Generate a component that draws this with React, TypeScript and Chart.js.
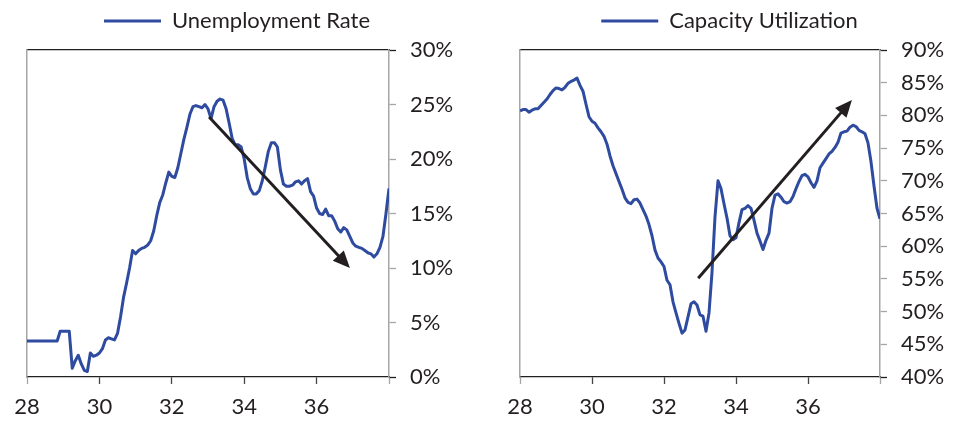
import React, { useEffect, useRef } from "react";
import { Chart, registerables } from "chart.js";

Chart.register(...registerables);

// ---------------- data ----------------
const FIRST_YEAR = 28; // monthly observations starting Jan 1928
const X_MIN = 28;
const X_MAX = 38;
const xTickValues = [28, 30, 32, 34, 36, 38];
const xTickLabels = ["28", "30", "32", "34", "36", ""];

const unemploymentRate = [
  3.3, 3.3, 3.3, 3.3, 3.3, 3.3, 3.3, 3.3, 3.3, 3.3, 3.3, 4.2,
  4.2, 4.2, 4.2, 0.8, 1.5, 2.0, 1.2, 0.6, 0.5, 2.2, 1.9, 2.0,
  2.2, 2.6, 3.4, 3.6, 3.5, 3.4, 4.0, 5.5, 7.3, 8.6, 10.0, 11.6,
  11.3, 11.6, 11.8, 11.9, 12.1, 12.5, 13.4, 14.8, 16.0, 16.7, 17.8, 18.8,
  18.4, 18.3, 19.2, 20.5, 21.8, 22.9, 24.1, 24.8, 24.9, 24.8, 24.7, 25.0,
  24.6, 23.7, 24.8, 25.3, 25.5, 25.4, 24.6, 23.3, 21.9, 21.3, 21.3, 21.1,
  20.0, 18.3, 17.3, 16.8, 16.8, 17.1, 18.0, 19.3, 20.7, 21.5, 21.5, 21.1,
  19.0, 17.7, 17.5, 17.5, 17.6, 17.9, 18.0, 17.7, 18.0, 18.2, 17.0, 16.6,
  15.5, 15.0, 14.9, 15.4, 14.8, 14.8, 14.3, 13.6, 13.3, 13.7, 13.5, 12.9,
  12.3, 12.0, 11.9, 11.8, 11.6, 11.4, 11.3, 11.0, 11.3, 11.9, 12.9, 15.0,
  17.3,
];

const capacityUtilization = [
  80.7, 80.9, 80.9, 80.5, 80.8, 81.0, 81.0, 81.5, 82.0, 82.5, 83.2, 83.8,
  84.2, 84.1, 83.9, 84.3, 84.9, 85.2, 85.4, 85.7, 84.6, 83.7, 81.7, 79.8,
  79.1, 78.8, 78.1, 77.5, 76.8, 75.6, 73.8, 72.3, 71.1, 69.9, 68.7, 67.4,
  66.7, 66.5, 67.1, 67.2, 66.6, 65.6, 64.6, 63.3, 61.6, 59.4, 58.2, 57.6,
  56.9, 54.8, 54.1, 51.5, 49.8, 48.2, 46.7, 47.2, 49.2, 51.2, 51.5, 51.0,
  49.5, 49.3, 47.0, 49.8, 56.0, 64.5, 70.0, 68.8, 66.5, 64.3, 61.6, 61.0,
  61.3, 63.6, 65.6, 65.8, 66.2, 65.8, 64.0, 62.0, 60.8, 59.5, 60.9, 62.0,
  65.8, 67.8, 68.0, 67.5, 66.8, 66.6, 66.8, 67.6, 68.8, 69.9, 70.8, 71.0,
  70.6, 69.7, 69.0, 70.0, 72.0, 72.7, 73.4, 74.1, 74.5, 75.1, 75.9, 77.3,
  77.5, 77.6, 78.2, 78.5, 78.3, 77.7, 77.5, 77.2, 75.8, 72.9, 69.2, 65.8,
  64.2,
];

// trend arrows: [year, value]
const unemploymentArrowFrom = [33.03, 23.85];
const unemploymentArrowTo = [36.92, 10.0];
const capacityArrowFrom = [32.95, 55.1];
const capacityArrowTo = [37.22, 82.35];

// ---------------- style ----------------
const DARK = "#231f20";
const GRAY = "#a6a6a6";
const BLUE = "#2f4ba0";
const FONT = "Lato, 'Noto Sans', sans-serif";

Chart.defaults.font.family = FONT;
Chart.defaults.font.size = 22;
Chart.defaults.color = DARK;

const trendArrowPlugin = {
  id: "trendArrow",
  afterDatasetsDraw(chart: any, _args: any, opts: any) {
    const xs = chart.scales.x;
    const ys = chart.scales.y;
    const ctx = chart.ctx;
    const x1 = xs.getPixelForValue(opts.from[0]);
    const y1 = ys.getPixelForValue(opts.from[1]);
    const x2 = xs.getPixelForValue(opts.to[0]);
    const y2 = ys.getPixelForValue(opts.to[1]);
    const ang = Math.atan2(y2 - y1, x2 - x1);
    const L = 17;
    const W = 7.5;
    const bx = x2 - L * Math.cos(ang);
    const by = y2 - L * Math.sin(ang);
    ctx.save();
    ctx.strokeStyle = DARK;
    ctx.fillStyle = DARK;
    ctx.lineWidth = 3;
    ctx.beginPath();
    ctx.moveTo(x1, y1);
    ctx.lineTo(bx + 2 * Math.cos(ang), by + 2 * Math.sin(ang));
    ctx.stroke();
    ctx.beginPath();
    ctx.moveTo(x2, y2);
    ctx.lineTo(bx + W * Math.sin(ang), by - W * Math.cos(ang));
    ctx.lineTo(bx - W * Math.sin(ang), by + W * Math.cos(ang));
    ctx.closePath();
    ctx.fill();
    ctx.restore();
  },
};

type PanelProps = {
  label: string;
  values: number[];
  yMin: number;
  yMax: number;
  yStep: number;
  arrowFrom: number[];
  arrowTo: number[];
  left: number;
  width: number;
  leftGap: number;
  axisWidth: number;
  rightPad: number;
};

function Panel(p: PanelProps) {
  const ref = useRef<HTMLCanvasElement | null>(null);
  useEffect(() => {
    if (!ref.current) return;
    const points = p.values.map((v, i) => ({ x: FIRST_YEAR + i / 12, y: v }));
    const chart = new Chart(ref.current, {
      type: "line",
      data: {
        datasets: [
          {
            label: p.label,
            data: points,
            borderColor: BLUE,
            backgroundColor: BLUE,
            borderWidth: 3,
            pointRadius: 0,
            tension: 0,
            borderJoinStyle: "round",
            xAxisID: "x",
            yAxisID: "y",
          } as any,
        ],
      },
      options: {
        animation: false,
        responsive: false,
        layout: { padding: { left: 0, right: p.rightPad, top: 0, bottom: 0 } },
        plugins: {
          legend: {
            display: true,
            position: "top",
            labels: {
              usePointStyle: true,
              pointStyle: "line",
              pointStyleWidth: 57,
              boxHeight: 22,
              color: DARK,
              font: { size: 22, family: FONT },
              padding: 10,
            },
          },
          tooltip: { enabled: false },
          trendArrow: { from: p.arrowFrom, to: p.arrowTo },
        } as any,
        scales: {
          x: {
            type: "linear",
            position: "bottom",
            min: X_MIN,
            max: X_MAX,
            afterBuildTicks: (s: any) => {
              s.ticks = xTickValues.map((v) => ({ value: v }));
            },
            ticks: {
              autoSkip: false,
              maxRotation: 0,
              padding: 10,
              color: DARK,
              font: { size: 22, family: FONT },
              callback: (v: any) => {
                const idx = xTickValues.indexOf(Number(v));
                return idx >= 0 ? xTickLabels[idx] : "";
              },
            },
            grid: {
              drawOnChartArea: false,
              tickLength: 7,
              tickWidth: 1.3,
              tickColor: (c: any) =>
                c.tick && (c.tick.value === X_MIN || c.tick.value === X_MAX) ? GRAY : "#444",
            },
            border: { color: DARK, width: 1.3 },
            afterFit: (s: any) => {
              s.height = 55;
            },
          },
          xTop: {
            type: "linear",
            position: "top",
            min: X_MIN,
            max: X_MAX,
            ticks: { display: false },
            grid: { display: false },
            border: { color: DARK, width: 1.3 },
            afterFit: (s: any) => {
              s.height = 8;
            },
          },
          y: {
            type: "linear",
            position: "right",
            min: p.yMin,
            max: p.yMax,
            ticks: {
              stepSize: p.yStep,
              padding: 14,
              color: DARK,
              font: { size: 22, family: FONT },
              callback: (v: any) => `${v}%`,
            },
            grid: {
              drawOnChartArea: false,
              tickLength: 7,
              tickWidth: 1.3,
              tickColor: (c: any) =>
                c.tick && (c.tick.value === p.yMin || c.tick.value === p.yMax) ? DARK : GRAY,
            },
            border: { color: GRAY, width: 1.5 },
            afterFit: (s: any) => {
              s.width = p.axisWidth;
            },
          },
          yLeft: {
            type: "linear",
            position: "left",
            ticks: { display: false },
            grid: { display: false },
            border: { color: GRAY, width: 1.5 },
            afterFit: (s: any) => {
              s.width = p.leftGap;
            },
          },
        } as any,
      },
      plugins: [trendArrowPlugin as any],
    });
    return () => chart.destroy();
  }, []);
  return (
    <canvas
      ref={ref}
      width={p.width}
      height={432}
      style={{ position: "absolute", left: p.left, top: 0, width: p.width, height: 432 }}
    />
  );
}

export default function App() {
  return (
    <div style={{ position: "absolute", left: 0, top: 0, width: 976, height: 432, background: "#fff" }}>
      <Panel
        label="Unemployment Rate"
        values={unemploymentRate}
        yMin={0}
        yMax={30}
        yStep={5}
        arrowFrom={unemploymentArrowFrom}
        arrowTo={unemploymentArrowTo}
        left={0}
        width={490}
        leftGap={27}
        axisWidth={85}
        rightPad={16}
      />
      <Panel
        label="Capacity Utilization"
        values={capacityUtilization}
        yMin={40}
        yMax={90}
        yStep={5}
        arrowFrom={capacityArrowFrom}
        arrowTo={capacityArrowTo}
        left={490}
        width={486}
        leftGap={30}
        axisWidth={89}
        rightPad={7}
      />
    </div>
  );
}
